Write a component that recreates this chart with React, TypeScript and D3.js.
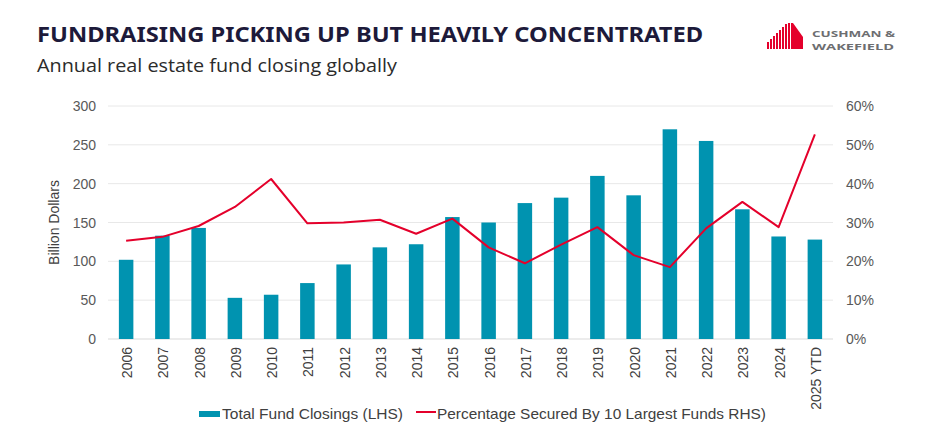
import React, { useEffect, useRef } from 'react';
import * as d3 from 'd3';

// Years on the x axis
const CATEGORIES = [
  '2006', '2007', '2008', '2009', '2010', '2011', '2012', '2013', '2014', '2015',
  '2016', '2017', '2018', '2019', '2020', '2021', '2022', '2023', '2024', '2025 YTD',
];

// Total fund closings, billion dollars (LHS)
const FUND_CLOSINGS = [
  102, 133, 143, 53, 57, 72, 96, 118, 122, 157,
  150, 175, 182, 210, 185, 270, 255, 167, 132, 128,
];

// Percentage secured by 10 largest funds (RHS)
const TOP10_SHARE = [
  25.3, 26.3, 29.1, 34.0, 41.2, 29.8, 30.0, 30.7, 27.1, 31.0,
  23.6, 19.5, 24.3, 28.8, 21.6, 18.5, 28.5, 35.3, 28.8, 52.7,
];

const LEFT_TICKS = [0, 50, 100, 150, 200, 250, 300];
const RIGHT_TICKS = [0, 10, 20, 30, 40, 50, 60];

const TITLE = 'FUNDRAISING PICKING UP BUT HEAVILY CONCENTRATED';
const SUBTITLE = 'Annual real estate fund closing globally';
const LEGEND_BAR = 'Total Fund Closings (LHS)';
const LEGEND_LINE = 'Percentage Secured By 10 Largest Funds RHS)';

const W = 927;
const H = 443;
const TEAL = '#0093b0';
const RED = '#e4002b';
const AXIS_FONT = '"Liberation Sans", Arial, sans-serif';

const App: React.FC = () => {
  const ref = useRef<SVGSVGElement>(null);

  useEffect(() => {
    document.body.style.margin = '0';
    if (!ref.current) return;
    const svg = d3.select(ref.current);
    svg.selectAll('*').remove();

    const plot = { left: 108, right: 833, top: 106, bottom: 339 };

    const x = d3
      .scaleBand<string>()
      .domain(CATEGORIES)
      .range([plot.left, plot.right])
      .paddingInner(0.6)
      .paddingOuter(0.3);
    const yL = d3.scaleLinear().domain([0, 300]).range([plot.bottom, plot.top]);
    const yR = d3.scaleLinear().domain([0, 60]).range([plot.bottom, plot.top]);

    // Gridlines
    svg
      .append('g')
      .selectAll('line')
      .data(LEFT_TICKS)
      .enter()
      .append('line')
      .attr('x1', plot.left)
      .attr('x2', plot.right)
      .attr('y1', (d) => yL(d))
      .attr('y2', (d) => yL(d))
      .attr('stroke', (d) => (d === 0 ? '#d9d9d9' : '#e8e8e8'))
      .attr('stroke-width', 1);

    // Bars
    svg
      .append('g')
      .selectAll('rect')
      .data(FUND_CLOSINGS)
      .enter()
      .append('rect')
      .attr('x', (_, i) => x(CATEGORIES[i])!)
      .attr('width', x.bandwidth())
      .attr('y', (d) => yL(d))
      .attr('height', (d) => plot.bottom - yL(d))
      .attr('fill', TEAL);

    // Line
    const line = d3
      .line<number>()
      .x((_, i) => x(CATEGORIES[i])! + x.bandwidth() / 2)
      .y((d) => yR(d));
    svg
      .append('path')
      .datum(TOP10_SHARE)
      .attr('d', line)
      .attr('fill', 'none')
      .attr('stroke', RED)
      .attr('stroke-width', 2)
      .attr('stroke-linejoin', 'round');

    // Left axis labels
    svg
      .append('g')
      .selectAll('text')
      .data(LEFT_TICKS)
      .enter()
      .append('text')
      .attr('x', 96)
      .attr('y', (d) => yL(d) + 5)
      .attr('text-anchor', 'end')
      .text((d) => d)
      .style('font-size', '14px')
      .style('fill', '#595959')
      .style('font-family', AXIS_FONT);

    // Right axis labels
    svg
      .append('g')
      .selectAll('text')
      .data(RIGHT_TICKS)
      .enter()
      .append('text')
      .attr('x', 846)
      .attr('y', (d) => yR(d) + 5)
      .text((d) => `${d}%`)
      .style('font-size', '14px')
      .style('fill', '#595959')
      .style('font-family', AXIS_FONT);

    // Left axis title
    svg
      .append('text')
      .attr('transform', `translate(59,${(plot.top + plot.bottom) / 2}) rotate(-90)`)
      .attr('text-anchor', 'middle')
      .text('Billion Dollars')
      .style('font-size', '14px')
      .style('fill', '#404040')
      .style('font-family', AXIS_FONT);

    // X labels
    svg
      .append('g')
      .selectAll('text')
      .data(CATEGORIES)
      .enter()
      .append('text')
      .attr('transform', (d) => `translate(${x(d)! + x.bandwidth() / 2 + 6},347) rotate(-90)`)
      .attr('text-anchor', 'end')
      .text((d) => d)
      .style('font-size', '14px')
      .style('fill', '#404040')
      .style('font-family', AXIS_FONT);

    // Legend
    const lg = svg.append('g');
    lg.append('rect').attr('x', 199).attr('y', 411).attr('width', 21).attr('height', 6).attr('fill', TEAL);
    lg.append('text')
      .attr('x', 222)
      .attr('y', 419)
      .attr('textLength', 181)
      .attr('lengthAdjust', 'spacingAndGlyphs')
      .text(LEGEND_BAR)
      .style('font-size', '15px')
      .style('fill', '#404040')
      .style('font-family', AXIS_FONT);
    lg.append('line')
      .attr('x1', 416)
      .attr('x2', 436)
      .attr('y1', 412)
      .attr('y2', 412)
      .attr('stroke', RED)
      .attr('stroke-width', 2);
    lg.append('text')
      .attr('x', 437)
      .attr('y', 419)
      .attr('textLength', 329)
      .attr('lengthAdjust', 'spacingAndGlyphs')
      .text(LEGEND_LINE)
      .style('font-size', '15px')
      .style('fill', '#404040')
      .style('font-family', AXIS_FONT);

    // Title and subtitle
    svg
      .append('text')
      .attr('x', 37)
      .attr('y', 42)
      .attr('textLength', 666)
      .attr('lengthAdjust', 'spacingAndGlyphs')
      .text(TITLE)
      .style('font-size', '22px')
      .style('font-weight', 700)
      .style('fill', '#1d1a3a')
      .style('font-family', '"Noto Sans", sans-serif');
    svg
      .append('text')
      .attr('x', 37)
      .attr('y', 72)
      .attr('textLength', 360)
      .attr('lengthAdjust', 'spacingAndGlyphs')
      .text(SUBTITLE)
      .style('font-size', '19px')
      .style('fill', '#2b2b2b')
      .style('font-family', '"Open Sans", sans-serif');

    // Logo mark: striped building
    const logo = svg.append('g');
    const stripeTops = [42, 39, 36, 33, 30, 27, 24, 23];
    stripeTops.forEach((top, i) => {
      logo
        .append('rect')
        .attr('x', 767 + i * 3)
        .attr('y', top)
        .attr('width', 2)
        .attr('height', 49 - top)
        .attr('fill', RED);
    });
    logo
      .append('path')
      .attr('d', 'M791,23 L793,23 L803,37 L803,49 L791,49 Z')
      .attr('fill', RED);
    logo
      .append('text')
      .attr('x', 812)
      .attr('y', 37)
      .attr('textLength', 83)
      .attr('lengthAdjust', 'spacingAndGlyphs')
      .text('CUSHMAN &')
      .style('font-size', '9.5px')
      .style('font-weight', 700)
      .style('fill', '#6d6e71')
      .style('font-family', '"Open Sans", sans-serif');
    logo
      .append('text')
      .attr('x', 812)
      .attr('y', 50)
      .attr('textLength', 82)
      .attr('lengthAdjust', 'spacingAndGlyphs')
      .text('WAKEFIELD')
      .style('font-size', '9.5px')
      .style('font-weight', 700)
      .style('fill', '#6d6e71')
      .style('font-family', '"Open Sans", sans-serif');
  }, []);

  return <svg ref={ref} width={W} height={H} style={{ display: 'block', background: '#fff' }} />;
};

export default App;
